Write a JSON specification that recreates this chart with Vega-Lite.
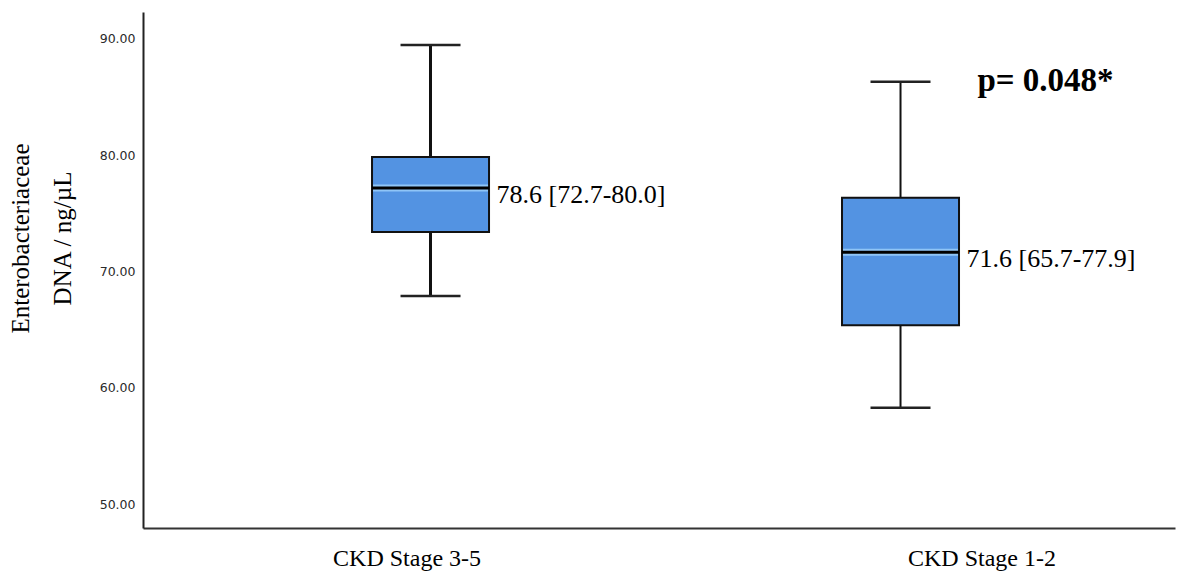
{
  "$schema": "https://vega.github.io/schema/vega-lite/v6.json",
  "width": 1032,
  "height": 516,
  "autosize": {"type": "none"},
  "padding": {"left": 143, "top": 12, "right": 3, "bottom": 47},
  "background": "white",
  "config": {"view": {"stroke": null}},
  "data": {
    "values": [
      {"group": "CKD Stage 3-5", "lower": 67.89, "q1": 73.40, "median": 77.18, "q3": 79.85, "upper": 89.48, "label": "78.6 [72.7-80.0]"},
      {"group": "CKD Stage 1-2", "lower": 58.28, "q1": 65.37, "median": 71.65, "q3": 76.35, "upper": 86.32, "label": "71.6 [65.7-77.9]"}
    ]
  },
  "encoding": {
    "x": {
      "field": "group",
      "type": "nominal",
      "sort": null,
      "scale": {"type": "point", "domain": ["CKD Stage 3-5", "CKD Stage 1-2"], "padding": 0.5979, "align": 0.5116},
      "axis": {
        "title": null,
        "ticks": false,
        "tickSize": 0,
        "labelFont": "Liberation Serif",
        "labelFontSize": 24,
        "labelColor": "#000000",
        "labelBaseline": "alphabetic",
        "labelPadding": 37,
        "labelOffset": {"expr": "datum.value === 'CKD Stage 1-2' ? 81 : -24"},
        "labelAngle": 0,
        "domainColor": "#333333",
        "domainWidth": 2,
        "grid": false
      }
    }
  },
  "layer": [
    {
      "mark": {"type": "rule", "color": "#111111"},
      "encoding": {
        "y": {
          "field": "lower",
          "type": "quantitative",
          "scale": {"domain": [47.94, 92.32], "nice": false, "zero": false},
          "axis": {
            "values": [50, 60, 70, 80, 90],
            "format": ".2f",
            "ticks": false,
            "tickSize": 0,
            "grid": false,
            "labelFont": "DejaVu Sans",
            "labelFontSize": 12.5,
            "labelColor": "#2a2a2a",
            "labelPadding": 8,
            "domainColor": "#222222",
            "domainWidth": 2,
            "title": ["Enterobacteriaceae", "DNA / ng/µL"],
            "titleFont": "Liberation Serif",
            "titleFontSize": 25,
            "titleFontWeight": "normal",
            "titleColor": "#000000",
            "titleAngle": -90,
            "titleAlign": "center",
            "titleBaseline": "alphabetic",
            "titleLineHeight": 42,
            "titleX": -115,
            "titleY": 226
          }
        },
        "y2": {"field": "q1"},
        "strokeWidth": {"field": "group", "type": "nominal", "scale": {"domain": ["CKD Stage 3-5", "CKD Stage 1-2"], "range": [3, 2]}, "legend": null}
      }
    },
    {
      "mark": {"type": "rule", "color": "#111111"},
      "encoding": {
        "y": {"field": "q3", "type": "quantitative"},
        "y2": {"field": "upper"},
        "strokeWidth": {"field": "group", "type": "nominal", "scale": {"domain": ["CKD Stage 3-5", "CKD Stage 1-2"], "range": [3, 2]}, "legend": null}
      }
    },
    {
      "mark": {"type": "tick", "color": "#222222", "size": 60, "thickness": 2.5, "opacity": 1},
      "encoding": {"y": {"field": "lower", "type": "quantitative"}}
    },
    {
      "mark": {"type": "tick", "color": "#222222", "size": 60, "thickness": 2.5, "opacity": 1},
      "encoding": {"y": {"field": "upper", "type": "quantitative"}}
    },
    {
      "mark": {"type": "bar", "size": 117, "fill": "#5393E2", "stroke": "#111111", "strokeWidth": 2, "opacity": 1},
      "encoding": {"y": {"field": "q1", "type": "quantitative"}, "y2": {"field": "q3"}}
    },
    {
      "mark": {"type": "tick", "color": "#8FC5F7", "size": 115, "thickness": 7, "opacity": 1},
      "encoding": {"y": {"field": "median", "type": "quantitative"}}
    },
    {
      "mark": {"type": "tick", "color": "#000000", "size": 117, "thickness": 3, "opacity": 1},
      "encoding": {"y": {"field": "median", "type": "quantitative"}}
    },
    {
      "mark": {"type": "text", "align": "left", "baseline": "middle", "dx": 66, "dy": 7, "font": "Liberation Serif", "fontSize": 26, "color": "#000000"},
      "encoding": {"y": {"field": "median", "type": "quantitative"}, "text": {"field": "label"}}
    },
    {
      "transform": [{"filter": "datum.group === 'CKD Stage 1-2'"}],
      "mark": {"type": "text", "align": "center", "baseline": "alphabetic", "dx": 145, "dy": 9, "font": "Liberation Serif", "fontSize": 33, "fontWeight": "bold", "color": "#000000"},
      "encoding": {"y": {"field": "upper", "type": "quantitative"}, "text": {"value": "p= 0.048*"}}
    }
  ]
}
